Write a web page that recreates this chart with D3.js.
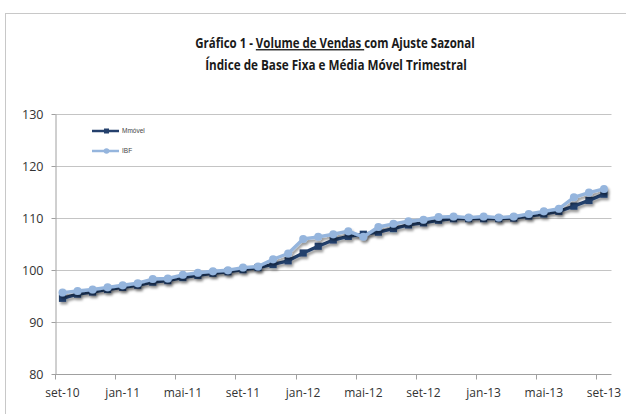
<!DOCTYPE html>
<html><head><meta charset="utf-8">
<script src="https://cdn.jsdelivr.net/npm/d3@7"></script>
<style>html,body{margin:0;padding:0;background:#fff}</style>
</head><body>
<svg id="c" width="626" height="414"></svg>
<script>
const months = ["set-10","out-10","nov-10","dez-10","jan-11","fev-11","mar-11","abr-11","mai-11","jun-11","jul-11","ago-11",
"set-11","out-11","nov-11","dez-11","jan-12","fev-12","mar-12","abr-12","mai-12","jun-12","jul-12","ago-12",
"set-12","out-12","nov-12","dez-12","jan-13","fev-13","mar-13","abr-13","mai-13","jun-13","jul-13","ago-13","set-13"];
const mmovel = [94.6,95.4,95.8,96.3,96.7,97.1,97.7,98.0,98.6,99.0,99.4,99.7,100.1,100.5,101.1,101.8,103.3,104.6,105.8,106.5,106.9,107.3,108.0,108.7,109.1,109.6,109.9,109.9,109.9,109.9,110.0,110.4,110.8,111.3,112.3,113.4,114.6];
const ibf = [95.7,96.0,96.3,96.7,97.1,97.5,98.3,98.4,99.1,99.5,99.8,100.0,100.5,100.7,102.1,103.2,106.0,106.4,106.9,107.5,106.4,108.3,108.9,109.4,109.7,110.2,110.3,110.1,110.3,110.1,110.3,110.8,111.3,111.8,114.0,114.9,115.6];
const yTicks = [80,90,100,110,120,130];
const seriesNames = ["Mmóvel","IBF"];
const colors = ["#24406c","#95b5dd"];

const svg = d3.select("#c");
const defs = svg.append("defs");
const f = defs.append("filter").attr("id","sh").attr("x","-20%").attr("y","-20%").attr("width","140%").attr("height","160%");
f.append("feDropShadow").attr("dx",1.5).attr("dy",2.5).attr("stdDeviation",1.3).attr("flood-color","#000").attr("flood-opacity",0.4);

// frame
svg.append("rect").attr("x",5.5).attr("y",13.5).attr("width",700).attr("height",500).attr("fill","#fff").attr("stroke","#c8c8c8").attr("stroke-width",1);

// title (horizontally condensed to mimic Calibri)
const tf = "'Open Sans','Liberation Sans',sans-serif";
function titleLine(cxp, by, width, parts){
  const g = svg.append("g");
  const txt = g.append("text").attr("x",0).attr("y",0).attr("font-family",tf).attr("font-weight","bold")
    .attr("font-size",13.5).attr("fill","#1a1a1a").attr("text-anchor","middle");
  parts.forEach(p=>{ const ts = txt.append("tspan").text(p.t); if(p.u) ts.attr("text-decoration","underline"); });
  const w = txt.node().getComputedTextLength();
  g.attr("transform",`translate(${cxp},${by}) scale(${width/w},1)`);
}
titleLine(335,48,280,[{t:"Gráfico 1 - "},{t:"Volume de Vendas ",u:true},{t:"com Ajuste Sazonal"}]);
titleLine(336,70,262,[{t:"Índice de Base Fixa e Média Móvel Trimestral"}]);

const pL = 55, pR = 611.5, pT = 114, pB = 374.3;
const x = d3.scaleBand().domain(months).range([pL,pR]).paddingInner(0).paddingOuter(0);
const y = d3.scaleLinear().domain([80,130]).range([pB,pT]);

// gridlines
svg.append("g").selectAll("line").data(yTicks.slice(1)).join("line")
  .attr("x1",pL).attr("x2",pR).attr("y1",d=>Math.round(y(d))+0.5).attr("y2",d=>Math.round(y(d))+0.5)
  .attr("stroke","#c4c4c4").attr("stroke-width",1);

// y axis
const ya = svg.append("g").attr("transform",`translate(${pL+0.5},0)`)
  .call(d3.axisLeft(y).tickValues(yTicks).tickSize(4).tickSizeOuter(0));
ya.select(".domain").attr("stroke","#a0a0a0");
ya.selectAll(".tick line").attr("stroke","#a0a0a0");
ya.selectAll(".tick").attr("transform",d=>`translate(0,${Math.round(y(d))+0.5})`);
ya.selectAll("text").attr("font-family",tf).attr("font-size",12.5).attr("fill","#333").attr("x",-12).attr("dy","0.35em");

// x axis
const xa = svg.append("g").attr("transform",`translate(0,${Math.round(pB)+0.5})`);
xa.append("line").attr("x1",pL).attr("x2",pR).attr("stroke","#a0a0a0");
const tickIdx = months.map((m,i)=>i).filter(i=>i%4===0);
xa.selectAll("line.tk").data(tickIdx.filter(i=>i>0)).join("line").attr("class","tk")
  .attr("x1",i=>Math.round(x(months[i]))+0.5).attr("x2",i=>Math.round(x(months[i]))+0.5).attr("y1",0).attr("y2",5).attr("stroke","#a0a0a0");
xa.append("line").attr("x1",pL+0.5).attr("x2",pL+0.5).attr("y1",0).attr("y2",5).attr("stroke","#a0a0a0");
xa.selectAll("text").data(tickIdx).join("text")
  .attr("x",i=>x(months[i])+x.bandwidth()/2).attr("y",22).attr("text-anchor","middle")
  .attr("font-family",tf).attr("font-size",12).attr("fill","#333")
  .text(i=>months[i]);

const cx = (d,i)=>x(months[i])+x.bandwidth()/2;
const line = d3.line().x((d,i)=>cx(d,i)).y(d=>y(d));

const series = [mmovel, ibf];
series.forEach((s,k)=>{
  const g = svg.append("g").attr("filter","url(#sh)");
  g.append("path").datum(s).attr("d",line).attr("fill","none").attr("stroke",colors[k]).attr("stroke-width",3.4).attr("stroke-linejoin","round");
  if(k===0){
    g.selectAll("rect").data(s).join("rect")
      .attr("x",(d,i)=>cx(d,i)-3.6).attr("y",d=>y(d)-3.6).attr("width",7.2).attr("height",7.2).attr("fill",colors[k]);
  } else {
    g.selectAll("circle").data(s).join("circle")
      .attr("cx",(d,i)=>cx(d,i)).attr("cy",d=>y(d)).attr("r",4).attr("fill",colors[k]);
  }
});

// legend
const lg = svg.append("g");
const ly = [131,151];
seriesNames.forEach((n,k)=>{
  lg.append("line").attr("x1",92).attr("x2",119).attr("y1",ly[k]).attr("y2",ly[k]).attr("stroke",colors[k]).attr("stroke-width",2.5);
  if(k===0) lg.append("rect").attr("x",104).attr("y",ly[k]-2.5).attr("width",5).attr("height",5).attr("fill",colors[k]);
  else lg.append("circle").attr("cx",106.5).attr("cy",ly[k]).attr("r",2.8).attr("fill",colors[k]);
  lg.append("text").attr("x",122).attr("y",ly[k]+2.2).attr("font-family","'Liberation Sans',sans-serif").attr("font-size",6.5).attr("fill","#444").text(n);
});
</script>
</body></html>
